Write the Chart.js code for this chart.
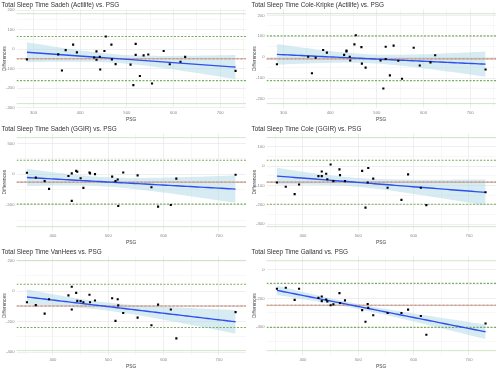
<!DOCTYPE html>
<html>
<head>
<meta charset="utf-8">
<script src="https://cdn.jsdelivr.net/npm/chart.js@4"></script>
<style>
  html, body { margin: 0; padding: 0; background: #fff; }
  #wrap { position: relative; width: 500px; height: 371px; }
  .panel { position: absolute; width: 250px; }
</style>
</head>
<body>
<div id="wrap"></div>
<script>
// PSG total sleep time (x) for the Actilife panels and the GGIR panels
const psgActi = [286, 353, 361, 369, 385, 393, 430, 435, 435, 442, 443, 452, 455, 467, 468, 476, 508, 514, 519, 519, 528, 536, 546, 554, 579, 592, 615, 625, 733];
const psgGgir = [353, 369, 385, 393, 428, 434, 434, 442, 444, 450, 455, 466, 467, 476, 507, 513, 517, 518, 527, 553, 578, 590, 613, 623, 730];

// differences (device - PSG)
const diffSadehActi = [-53, -27, -110, -5, 23, -17, -43, -12, -55, -40, -105, -10, 65, 23, -53, -77, -80, -185, -30, 27, -138, -32, -28, -177, -10, -78, -65, -40, -112];
const diffColeKripke = [-34, 2, -77, -3, 34, 22, 11, 27, 31, 2, -16, 61, 105, 48, -31, -50, -16, -150, 50, -9, -87, 55, -17, -103, 45, -40, -25, 9, -59];
const diffSadehGgir = [21, -58, -116, -242, -32, 11, -437, 53, 37, -68, -226, 26, 11, 0, -42, -116, -89, -521, 26, -21, -216, -532, -505, -74, -11];
const diffColeGgir = [-85, -107, -145, -95, -52, -28, -52, -40, -68, 8, -78, -17, -47, -78, -25, -215, -85, -10, -65, -112, -175, -43, -112, -202, -135];
const diffVanHees = [-72, -91, -147, -53, -27, 29, -120, -11, -63, -65, -72, -23, -72, -61, -46, -194, -53, -93, -143, -173, -223, -88, -120, -309, -137];
const diffGalland = [-133, -126, -210, -133, -196, -187, -219, -208, -221, -248, -242, -163, -232, -214, -282, -363, -239, -266, -318, -302, -302, -278, -323, -454, -375];

// reference lines: outer limit, upper LoA, mean bias, lower LoA, outer limit
const linesSadehActi = [182, 65, -50, -162, -280];
const linesColeKripke = [208, 102, -8, -112, -222];
const linesSadehGgir = [595, 226, -132, -490, -858];
const linesColeGgir = [147, 30, -83, -197, -313];
const linesVanHees = [200, 46, -97, -238, -389];
const linesGalland = [63, -95, -248, -402, -564];

const titles = [
  "Total Sleep Time Sadeh (Actilife) vs. PSG",
  "Total Sleep Time Cole-Kripke (Actilife) vs. PSG",
  "Total Sleep Time Sadeh (GGIR) vs. PSG",
  "Total Sleep Time Cole (GGIR) vs. PSG",
  "Total Sleep Time VanHees vs. PSG",
  "Total Sleep Time Galland vs. PSG"
];
const yStep = [100, 100, 500, 100, 200, 200];

const panels = [
  { x: psgActi, y: diffSadehActi, lines: linesSadehActi },
  { x: psgActi, y: diffColeKripke, lines: linesColeKripke },
  { x: psgGgir, y: diffSadehGgir, lines: linesSadehGgir },
  { x: psgGgir, y: diffColeGgir, lines: linesColeGgir },
  { x: psgGgir, y: diffVanHees, lines: linesVanHees },
  { x: psgGgir, y: diffGalland, lines: linesGalland }
];

// linear fit with 95% confidence band
function fitLine(xs, ys) {
  const n = xs.length;
  const mx = xs.reduce((a, b) => a + b, 0) / n;
  const my = ys.reduce((a, b) => a + b, 0) / n;
  let sxx = 0, sxy = 0;
  for (let i = 0; i < n; i++) {
    sxx += (xs[i] - mx) ** 2;
    sxy += (xs[i] - mx) * (ys[i] - my);
  }
  const b = sxy / sxx;
  const a = my - b * mx;
  let sse = 0;
  for (let i = 0; i < n; i++) sse += (ys[i] - a - b * xs[i]) ** 2;
  const s = Math.sqrt(sse / (n - 2));
  const t = 2.06;
  const lo = Math.min(...xs), hi = Math.max(...xs);
  const line = [], upper = [], lower = [];
  for (let k = 0; k <= 60; k++) {
    const x = lo + (hi - lo) * k / 60;
    const yh = a + b * x;
    const se = s * Math.sqrt(1 / n + (x - mx) ** 2 / sxx);
    line.push({ x: x, y: yh });
    upper.push({ x: x, y: yh + t * se });
    lower.push({ x: x, y: yh - t * se });
  }
  return { line, upper, lower };
}

function padRange(vals) {
  const lo = Math.min(...vals), hi = Math.max(...vals);
  const pad = (hi - lo) * 0.05;
  return [lo - pad, hi + pad];
}

const font = "Liberation Sans, Arial, sans-serif";
const wrap = document.getElementById("wrap");
const rowTop = [0, 124, 247];
const rowH = [124, 123, 124];

panels.forEach((p, i) => {
  const div = document.createElement("div");
  div.className = "panel";
  div.style.left = (i % 2) * 250 + "px";
  div.style.top = rowTop[Math.floor(i / 2)] + "px";
  div.style.height = rowH[Math.floor(i / 2)] + "px";
  const canvas = document.createElement("canvas");
  div.appendChild(canvas);
  wrap.appendChild(div);

  const fit = fitLine(p.x, p.y);
  const [xMin, xMax] = padRange(p.x);
  const [yMin, yMax] = padRange(p.lines.concat(p.y, fit.upper.map(d => d.y), fit.lower.map(d => d.y)));
  const hline = v => [{ x: xMin, y: v }, { x: xMax, y: v }];

  const datasets = [
    { type: "scatter", data: p.x.map((x, k) => ({ x: x, y: p.y[k] })), pointStyle: "rect", pointRadius: 1.5,
      backgroundColor: "#000", borderColor: "#000", borderWidth: 0, order: 0 },
    { type: "line", data: fit.line, borderColor: "#2f4ff0", borderWidth: 1.4, pointRadius: 0, order: 1 },
    { type: "line", data: hline(p.lines[2]), borderColor: "#e08a74", borderWidth: 1.1, borderDash: [2, 2], pointRadius: 0, order: 2 },
    { type: "line", data: hline(p.lines[2]), borderColor: "#b9b3ad", borderWidth: 1.1, pointRadius: 0, order: 3 },
    { type: "line", data: hline(p.lines[1]), borderColor: "#79ad62", borderWidth: 1.1, borderDash: [2, 1.5], pointRadius: 0, order: 2 },
    { type: "line", data: hline(p.lines[3]), borderColor: "#79ad62", borderWidth: 1.1, borderDash: [2, 1.5], pointRadius: 0, order: 2 },
    { type: "line", data: hline(p.lines[0]), borderColor: "#aed09c", borderWidth: 1.1, borderDash: [1, 1], pointRadius: 0, order: 2 },
    { type: "line", data: hline(p.lines[4]), borderColor: "#aed09c", borderWidth: 1.1, borderDash: [1, 1], pointRadius: 0, order: 2 },
    { type: "line", data: fit.upper, borderWidth: 0, pointRadius: 0, fill: "+1", backgroundColor: "rgba(173,216,230,0.5)", order: 4 },
    { type: "line", data: fit.lower, borderWidth: 0, pointRadius: 0, fill: false, order: 5 }
  ];

  const xMajor = 100, yMajor = yStep[i];
  new Chart(canvas, {
    type: "scatter",
    data: { datasets: datasets },
    options: {
      responsive: true,
      maintainAspectRatio: false,
      animation: false,
      layout: { padding: { left: 1.5, right: 2, top: 0, bottom: 0 } },
      plugins: {
        legend: { display: false },
        tooltip: { enabled: false },
        title: {
          display: true, text: titles[i], align: "start", color: "#333",
          font: { family: font, size: 6.4, weight: "normal" },
          padding: { top: 1, bottom: 0.5 }
        }
      },
      scales: {
        x: {
          type: "linear", min: xMin, max: xMax,
          border: { display: false },
          grid: { drawTicks: false, lineWidth: 0.6, color: c => c.tick && c.tick.value % xMajor === 0 ? "#e4e4e4" : "#f2f2f2" },
          ticks: {
            stepSize: 50, includeBounds: false, padding: 2, maxRotation: 0, autoSkip: false, color: "#8a8a8a",
            font: { family: font, size: 4.2 },
            callback: v => (v % xMajor === 0 ? v : "")
          },
          title: { display: true, text: "PSG", color: "#444", padding: { top: 0, bottom: 1 },
            font: { family: font, size: 4.9 } }
        },
        y: {
          type: "linear", min: yMin, max: yMax,
          border: { display: false },
          grid: { drawTicks: false, lineWidth: 0.6, color: c => c.tick && c.tick.value % yMajor === 0 ? "#e4e4e4" : "#f2f2f2" },
          ticks: {
            stepSize: yMajor / 2, includeBounds: false, padding: 2, color: "#8a8a8a",
            font: { family: font, size: 4.2 },
            callback: v => (v % yMajor === 0 ? v : "")
          },
          title: { display: true, text: "Differences", color: "#444", padding: { top: 0, bottom: 0.5 },
            font: { family: font, size: 4.9 } },
          afterFit: s => { s.width = 15; }
        }
      }
    }
  });
});
</script>
</body>
</html>
